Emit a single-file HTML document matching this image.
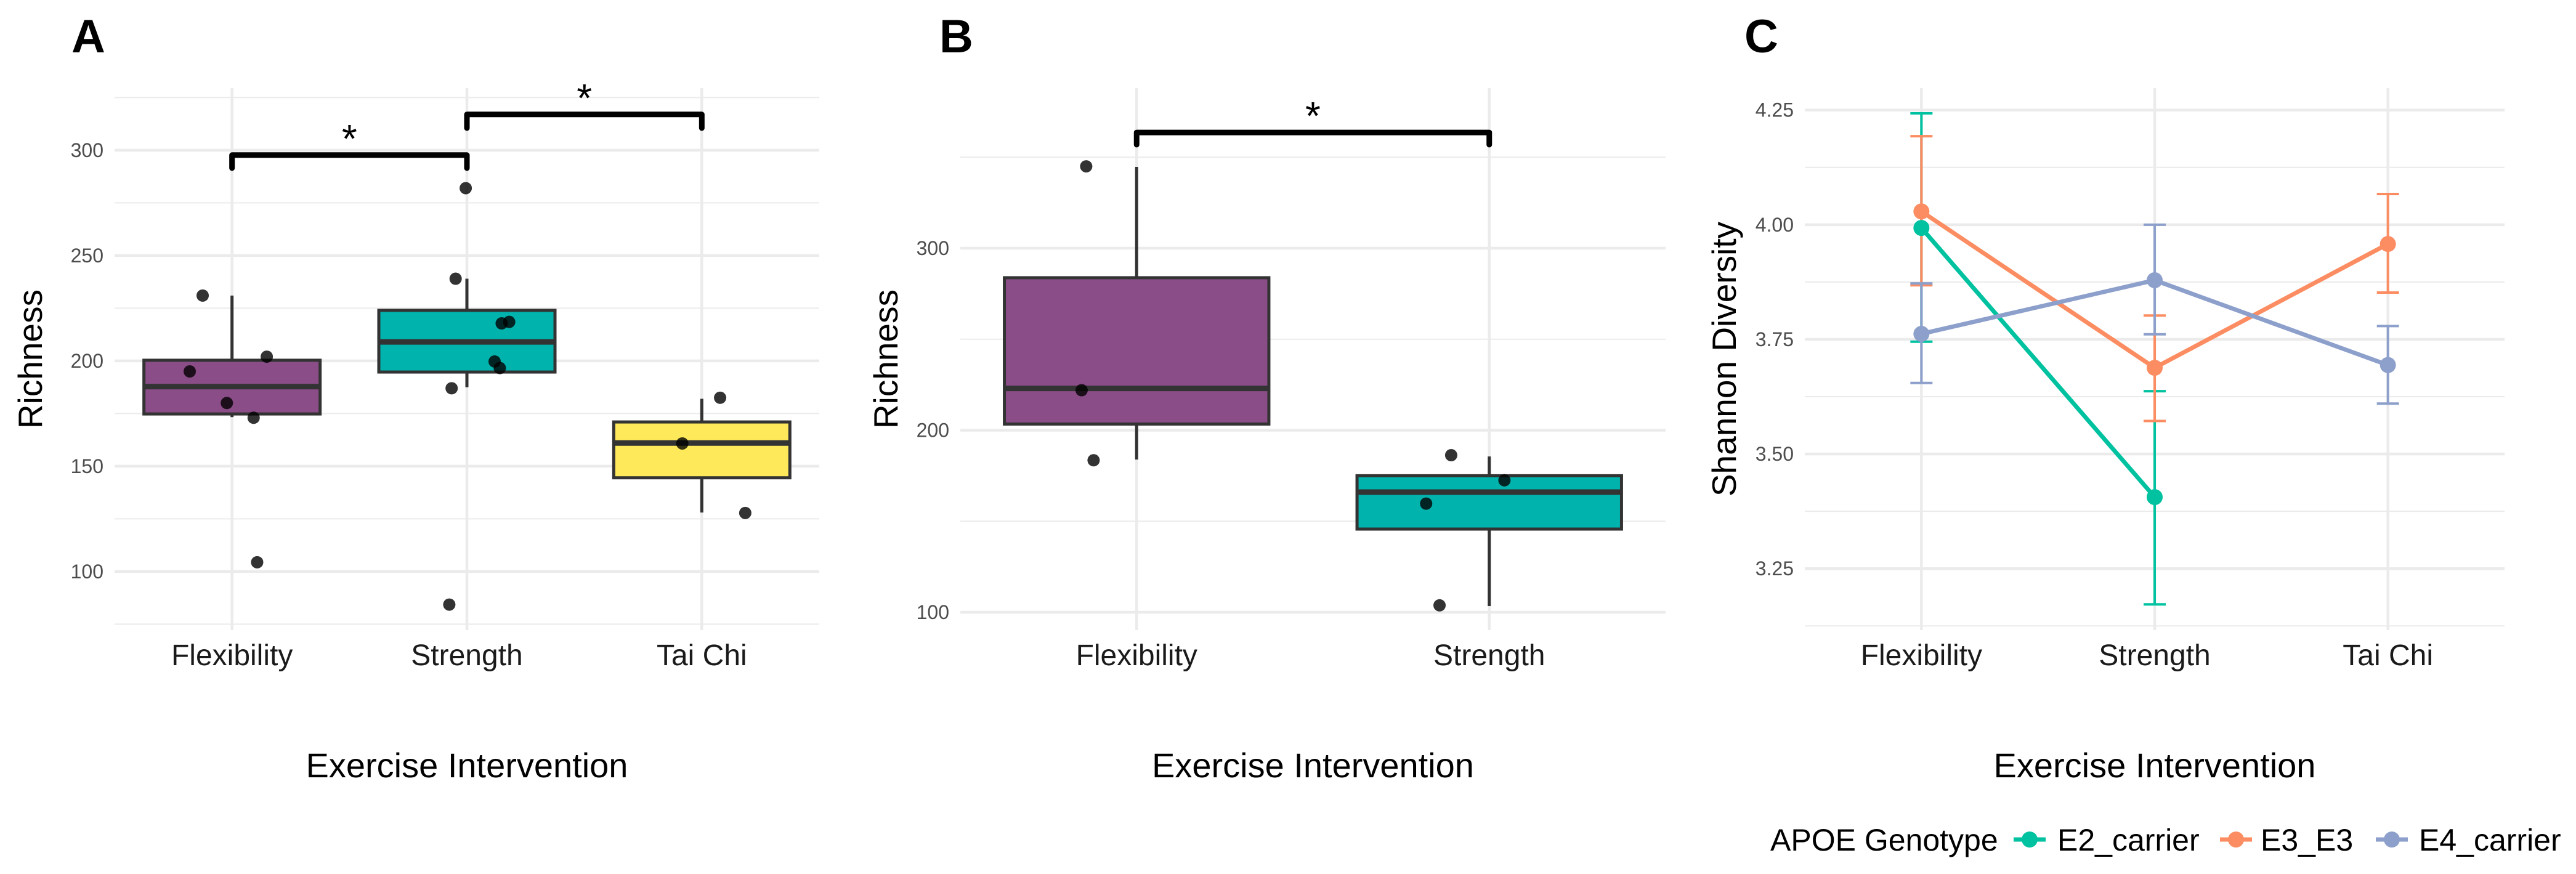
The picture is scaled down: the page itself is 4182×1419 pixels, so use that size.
<!DOCTYPE html>
<html><head><meta charset="utf-8"><style>
html,body{margin:0;padding:0;background:#fff;}
svg{display:block;font-family:"Liberation Sans",Arial,sans-serif;}
</style></head><body>
<svg id="fig" width="4182" height="1419" viewBox="0 0 4182 1419" xmlns="http://www.w3.org/2000/svg">
<rect width="4182" height="1419" fill="#fff"/>
<text x="116" y="85" font-size="76" font-weight="bold">A</text>
<text x="1525" y="85" font-size="76" font-weight="bold">B</text>
<text x="2832" y="85" font-size="76" font-weight="bold">C</text>
<g id="pa"></g>
<g id="pb"></g>
<g id="pc"></g>
</svg>
<script>
// ---- Panel A data ----
const catsA = ["Flexibility","Strength","Tai Chi"];
const ticksA = [100,150,200,250,300];
const boxQ1A = [174.8,194.7,144.5];
const boxMedA = [187.8,209,161];
const boxQ3A = [200.3,224,171];
const whiskLoA = [173.3,187.5,128];
const whiskHiA = [231,239,182];
const ptsCatA = [0,0,0,0,0,0,1,1,1,1,1,1,1,1,2,2,2];
const ptsValA = [231,195,180,173,202,104.4,282,239,217.8,218.5,199.7,196.6,187,84.3,182.5,160.8,127.8];
const ptsJitA = [-0.125,-0.18,-0.022,0.092,0.148,0.107,-0.005,-0.048,0.148,0.18,0.118,0.14,-0.065,-0.075,0.078,-0.083,0.185];
const sigFromA = [0,1];
const sigToA = [1,2];
const sigYA = [297.7,317];
const sigTipA = [291.5,310.5];
const fillA = ["#8a4d87","#00b3ad","#fde95a"];
// ---- Panel B data ----
const catsB = ["Flexibility","Strength"];
const ticksB = [100,200,300];
const boxQ1B = [203.4,145.7];
const boxMedB = [223,166];
const boxQ3B = [283.8,175];
const whiskLoB = [183.9,103.4];
const whiskHiB = [344.7,185.6];
const ptsCatB = [0,0,0,1,1,1,1];
const ptsValB = [345,222,183.5,186.3,172.5,159.7,103.8];
const ptsJitB = [-0.143,-0.156,-0.122,-0.108,0.043,-0.179,-0.141];
const sigFromB = [0];
const sigToB = [1];
const sigYB = [363.6];
const sigTipB = [356.9];
const fillB = ["#8a4d87","#00b3ad"];
// ---- Panel C data ----
const catsC = ["Flexibility","Strength","Tai Chi"];
const ticksC = [3.25,3.5,3.75,4.0,4.25];
const tickLabC = ["3.25","3.50","3.75","4.00","4.25"];
const groupsC = ["E2_carrier","E3_E3","E4_carrier"];
const colorsC = ["#00c2a0","#fc8d62","#8da0cb"];
const meanE2 = [3.993,3.406];
const loE2 = [3.745,3.172];
const hiE2 = [4.243,3.637];
const meanE3 = [4.029,3.688,3.958];
const loE3 = [3.868,3.572,3.852];
const hiE3 = [4.193,3.802,4.067];
const meanE4 = [3.762,3.879,3.694];
const loE4 = [3.655,3.761,3.61];
const hiE4 = [3.872,4.0,3.779];

const NS="http://www.w3.org/2000/svg";
function mk(parent,tag,attrs,name){const e=document.createElementNS(NS,tag);for(const k in attrs)e.setAttribute(k,attrs[k]);


parent.appendChild(e);return e;}

function frame(g,L,R,T,B,ymin,ymax,majors,labels,ncat,cats,ytitle,titleX){
  const y=v=>B-(v-ymin)/(ymax-ymin)*(B-T);
  const step=(R-L)/ncat; const x=i=>L+step*(i+0.5);
  for(let i=0;i<majors.length+1;i++){
    const d=majors[1]-majors[0]; const v=majors[0]-d/2+i*d;
    if(v>=ymin&&v<=ymax) mk(g,'line',{x1:L,x2:R,y1:y(v),y2:y(v),stroke:'#ebebeb','stroke-width':2},'minor-gridline');
  }
  majors.forEach((v,i)=>{mk(g,'line',{x1:L,x2:R,y1:y(v),y2:y(v),stroke:'#ebebeb','stroke-width':4.5},'major-gridline');
    const t=mk(g,'text',{x:L-18,y:y(v)+11,'text-anchor':'end','font-size':32,fill:'#4d4d4d'},'y-tick-label');t.textContent=labels[i];});
  cats.forEach((c,i)=>{mk(g,'line',{x1:x(i),x2:x(i),y1:T,y2:B,stroke:'#ebebeb','stroke-width':4.5},'x-gridline');
    const t=mk(g,'text',{x:x(i),y:1080,'text-anchor':'middle','font-size':48,fill:'#1a1a1a'},'x-tick-label');t.textContent=c;});
  const yt=mk(g,'text',{x:titleX,y:(T+B)/2,'text-anchor':'middle','font-size':55,transform:`rotate(-90 ${titleX} ${(T+B)/2})`},'y-axis-title');yt.textContent=ytitle;
  const xt=mk(g,'text',{x:(L+R)/2,y:1262,'text-anchor':'middle','font-size':56},'x-axis-title');xt.textContent='Exercise Intervention';
  return {x,y,step};
}

function boxPanel(g,L,R,T,B,ymin,ymax,ticks,cats,q1,med,q3,wl,wh,pc,pv,pj,sf,st,sy,stip,fills,titleX){
  const {x,y,step}=frame(g,L,R,T,B,ymin,ymax,ticks,ticks.map(String),cats.length,cats,'Richness',titleX);
  const hw=step*0.375;
  cats.forEach((c,i)=>{
    mk(g,'line',{x1:x(i),x2:x(i),y1:y(wh[i]),y2:y(q3[i]),stroke:'#333','stroke-width':5},'whisker-upper');
    mk(g,'line',{x1:x(i),x2:x(i),y1:y(q1[i]),y2:y(wl[i]),stroke:'#333','stroke-width':5},'whisker-lower');
    mk(g,'rect',{x:x(i)-hw,y:y(q3[i]),width:2*hw,height:y(q1[i])-y(q3[i]),fill:fills[i],stroke:'#333','stroke-width':5},'box-'+c.toLowerCase().replace(' ','-'));
    mk(g,'line',{x1:x(i)-hw,x2:x(i)+hw,y1:y(med[i]),y2:y(med[i]),stroke:'#333','stroke-width':9},'median-line');
  });
  pv.forEach((v,k)=>{mk(g,'circle',{cx:x(pc[k])+pj[k]*step,cy:y(v),r:10,fill:'#000','fill-opacity':0.8},'data-point');});
  sf.forEach((a,k)=>{
    const x1=x(a),x2=x(st[k]),yy=y(sy[k]),yt=y(stip[k]);
    mk(g,'path',{d:`M${x1},${yt} L${x1},${yy} L${x2},${yy} L${x2},${yt}`,fill:'none',stroke:'#000','stroke-width':9,'stroke-linecap':'round','stroke-linejoin':'round'},'significance-bracket');
    const t=mk(g,'text',{x:(x1+x2)/2,y:yy-5,'text-anchor':'middle','font-size':64},'significance-star');t.textContent='*';
  });
}

boxPanel(document.getElementById('pa'),186,1330,143,1023,72.2,329.5,ticksA,catsA,boxQ1A,boxMedA,boxQ3A,whiskLoA,whiskHiA,ptsCatA,ptsValA,ptsJitA,sigFromA,sigToA,sigYA,sigTipA,fillA,68);
boxPanel(document.getElementById('pb'),1559,2704,143,1023,90.2,388,ticksB,catsB,boxQ1B,boxMedB,boxQ3B,whiskLoB,whiskHiB,ptsCatB,ptsValB,ptsJitB,sigFromB,sigToB,sigYB,sigTipB,fillB,1457);

(function(){
  const g=document.getElementById('pc');
  const {x,y}=frame(g,2930,4066,143,1023,3.116,4.298,ticksC,tickLabC,3,catsC,'Shannon Diversity',2818);
  const means=[meanE2,meanE3,meanE4],los=[loE2,loE3,loE4],his=[hiE2,hiE3,hiE4];
  groupsC.forEach((gr,s)=>{
    const col=colorsC[s];
    means[s].forEach((m,i)=>{
      mk(g,'line',{x1:x(i),x2:x(i),y1:y(his[s][i]),y2:y(los[s][i]),stroke:col,'stroke-width':4},'error-bar-'+gr);
      mk(g,'line',{x1:x(i)-18,x2:x(i)+18,y1:y(his[s][i]),y2:y(his[s][i]),stroke:col,'stroke-width':4},'error-cap-'+gr);
      mk(g,'line',{x1:x(i)-18,x2:x(i)+18,y1:y(los[s][i]),y2:y(los[s][i]),stroke:col,'stroke-width':4},'error-cap-'+gr);
    });
  });
  groupsC.forEach((gr,s)=>{
    const col=colorsC[s];
    mk(g,'polyline',{points:means[s].map((m,i)=>x(i)+','+y(m)).join(' '),fill:'none',stroke:col,'stroke-width':7},'line-'+gr);
    means[s].forEach((m,i)=>mk(g,'circle',{cx:x(i),cy:y(m),r:13,fill:col},'point-'+gr));
  });
  const lt=mk(g,'text',{x:2874,y:1381,'font-size':50},'legend-title');lt.textContent='APOE Genotype';
  const keyX=[3269,3604,3857],txtX=[3340,3670,3927];
  groupsC.forEach((gr,s)=>{
    mk(g,'line',{x1:keyX[s],x2:keyX[s]+52,y1:1363,y2:1363,stroke:colorsC[s],'stroke-width':7},'legend-key-line');
    mk(g,'circle',{cx:keyX[s]+26,cy:1363,r:13,fill:colorsC[s]},'legend-key-point');
    const t=mk(g,'text',{x:txtX[s],y:1381,'font-size':50},'legend-entry-'+gr);t.textContent=gr;
  });
})();
</script>
</body></html>
